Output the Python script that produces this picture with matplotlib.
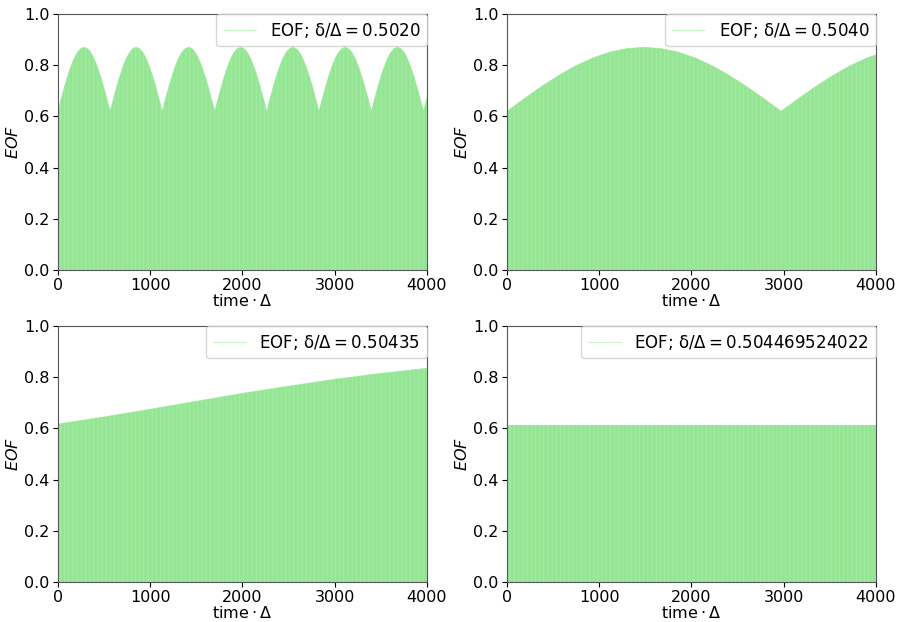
import matplotlib
matplotlib.use('Agg')
import matplotlib.pyplot as plt
import numpy as np

plt.rcParams['hatch.linewidth'] = 0.6

# EOF envelope
# panel 1 / 2: repeated lobes between troughs, same lobe profile
lobe_frac = [0, 0.0625, 0.125, 0.1875, 0.25, 0.3125, 0.375, 0.4375, 0.5,
             0.5625, 0.625, 0.6875, 0.75, 0.8125, 0.875, 0.9375, 1.0]
lobe_eof = [0.62, 0.669, 0.716, 0.759, 0.797, 0.828, 0.851, 0.865, 0.87,
            0.865, 0.851, 0.828, 0.797, 0.759, 0.716, 0.669, 0.62]
troughs1 = [0, 566, 1131, 1700, 2263, 2830, 3398, 3962, 4528]
troughs2 = [0, 2972, 5944]

time3 = [0, 500, 1000, 1500, 2000, 2500, 3000, 3500, 4000]
eof3 = [0.617, 0.645, 0.675, 0.706, 0.737, 0.765, 0.792, 0.815, 0.835]

time4 = [0, 4000]
eof4 = [0.615, 0.615]

labels = ['0.5020', '0.5040', '0.50435', '0.504469524022']


def lobes(troughs):
    t, e = [], []
    for a, b in zip(troughs[:-1], troughs[1:]):
        for f, v in zip(lobe_frac[:-1], lobe_eof[:-1]):
            t.append(a + f * (b - a))
            e.append(v)
    t.append(troughs[-1])
    e.append(lobe_eof[-1])
    return t, e


series = [lobes(troughs1), lobes(troughs2), (time3, eof3), (time4, eof4)]

fig = plt.figure(figsize=(9, 6.22), dpi=100)
w, h = 0.41, 0.4116
pos = [(0.0644, 0.566), (0.5633, 0.566), (0.0644, 0.0643), (0.5633, 0.0643)]
green = '#95e595'

for (x0, y0), (t, e), lab in zip(pos, series, labels):
    ax = fig.add_axes([x0, y0, w, h])
    ax.fill_between(t, 0, e, facecolor=green, edgecolor='#a6eca6',
                    hatch='||||', linewidth=0)
    ax.plot(t, e, color='lightgreen', lw=0.6, alpha=0.6,
            label=r'EOF; $\mathrm{\delta}/\Delta = %s$' % lab)
    ax.set_xlim(0, 4000)
    ax.set_ylim(0, 1)
    ax.set_xticks([0, 1000, 2000, 3000, 4000])
    ax.set_yticks([0, 0.2, 0.4, 0.6, 0.8, 1.0])
    ax.tick_params(labelsize=11.5, pad=2.5)
    ax.set_xlabel(r'$\mathrm{time}\cdot\Delta$', fontsize=11.5, labelpad=0)
    ax.set_ylabel(r'$EOF$', fontsize=11.5, labelpad=2)
    for s in ax.spines.values():
        s.set_color('#555555')
    ax.legend(loc='upper right', borderaxespad=0, fontsize=12)

plt.savefig('out.png', dpi=100)
